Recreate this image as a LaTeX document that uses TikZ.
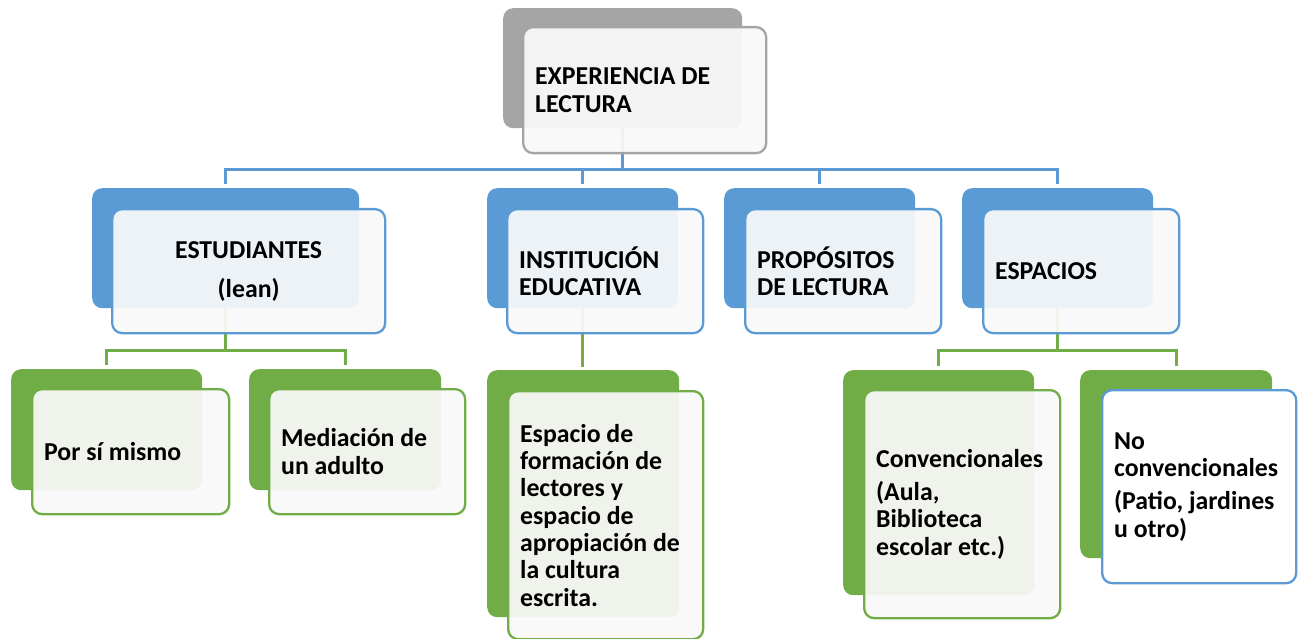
\documentclass[tikz,border=0pt]{standalone}
\usepackage{fontspec}
\setmainfont{Carlito}
\usetikzlibrary{positioning,backgrounds}
\definecolor{mblue}{HTML}{5B9BD5}
\definecolor{mgreen}{HTML}{70AD47}
\definecolor{mgray}{HTML}{A5A5A5}
\definecolor{mpale}{HTML}{F9F9F9}
\newcommand\boxfont{\fontsize{25.8}{27.3}\selectfont\bfseries}
\tikzset{
  backbox/.style={anchor=north west, rounded corners=10pt, fill=#1, inner sep=0pt},
  frontbox/.style={anchor=north west, rounded corners=10pt, draw=#1, line width=2.3pt,
    fill=mpale, fill opacity=0.93, text opacity=1, inner xsep=12pt, inner ysep=0pt,
    align=left, font=\boxfont, execute at begin node={\spaceskip=0pt\xspaceskip=0pt}},
  bluelink/.style={draw=mblue, line width=3pt},
  greenlink/.style={draw=mgreen, line width=3pt},
}
\begin{document}
\begin{tikzpicture}[x=1pt,y=-1pt]
    \useasboundingbox (0,0) rectangle (1301,639);
    % top
    \node[backbox=mgray, minimum width=239pt, minimum height=120pt] (topB) at (503,8) {};
    \node[frontbox=mgray, minimum width=243pt, minimum height=126pt, text width=219pt] (top) at (522,26) {EXPERIENCIA DE\\LECTURA};
    % first row
    \node[backbox=mblue, minimum width=267pt, minimum height=120pt] (estB) at (92,188) {};
    \node[frontbox=mblue, minimum width=273pt, minimum height=124pt, text width=249pt, align=center] (est) at (111,208) {ESTUDIANTES\\[12pt](lean)};
    \node[backbox=mblue, minimum width=191pt, minimum height=120pt] (instB) at (487,188) {};
    \node[frontbox=mblue, minimum width=196pt, minimum height=124pt, text width=172pt] (inst) at (506,208) {INSTITUCIÓN\\EDUCATIVA};
    \node[backbox=mblue, minimum width=191pt, minimum height=120pt] (propB) at (724,188) {};
    \node[frontbox=mblue, minimum width=196pt, minimum height=124pt, text width=172pt] (prop) at (744,208) {PROPÓSITOS\\DE LECTURA};
    \node[backbox=mblue, minimum width=191pt, minimum height=120pt] (espB) at (962,188) {};
    \node[frontbox=mblue, minimum width=196pt, minimum height=124pt, text width=172pt] (esp) at (982,208) {ESPACIOS};
    % second row
    \node[backbox=mgreen, minimum width=191pt, minimum height=121pt] (porB) at (11,369) {};
    \node[frontbox=mgreen, minimum width=197pt, minimum height=125pt, text width=173pt] (por) at (31,388) {Por sí mismo};
    \node[backbox=mgreen, minimum width=192pt, minimum height=121pt] (medB) at (249,369) {};
    \node[frontbox=mgreen, minimum width=196pt, minimum height=125pt, text width=172pt] (med) at (268,388) {Mediación de\\un adulto};
    \node[backbox=mgreen, minimum width=192pt, minimum height=247pt] (formB) at (487,370) {};
    \node[frontbox=mgreen, minimum width=195pt, minimum height=248pt, text width=171pt] (form) at (507,390) {Espacio de\\formación de\\lectores y\\espacio de\\apropiación de\\la cultura\\escrita.};
    \node[backbox=mgreen, minimum width=191pt, minimum height=225pt] (convB) at (843,370) {};
    \node[frontbox=mgreen, minimum width=196pt, minimum height=228pt, text width=172pt] (conv) at (863,389) {Convencionales\\[6pt](Aula,\\Biblioteca\\escolar etc.)};
    \node[backbox=mgreen, minimum width=192pt, minimum height=188pt] (noconvB) at (1080,370) {};
    \node[frontbox=mblue, fill=white, fill opacity=1, minimum width=194pt, minimum height=193pt, text width=170pt] (noconv) at (1101,389) {No\\convencionales\\[6pt](Patio, jardines\\u otro)};
    % links
    \begin{pgfonlayer}{background}
      \draw[bluelink] (topB.south) -- ++(0,41) coordinate (hubA);
      \foreach \n in {estB,instB,propB,espB}
        \draw[bluelink, shorten >=4pt] (hubA) -| (\n.north);
      \draw[greenlink] (estB.south) -- ++(0,42) coordinate (hubB);
      \foreach \n in {porB,medB}
        \draw[greenlink, shorten >=4pt] (hubB) -| (\n.north);
      \draw[greenlink, shorten >=3pt] (instB.south) -- (instB.south |- formB.north);
      \draw[greenlink] (espB.south) -- ++(0,42) coordinate (hubC);
      \foreach \n in {convB,noconvB}
        \draw[greenlink, shorten >=4pt] (hubC) -| (\n.north);
    \end{pgfonlayer}
  \end{tikzpicture}
\end{document}
